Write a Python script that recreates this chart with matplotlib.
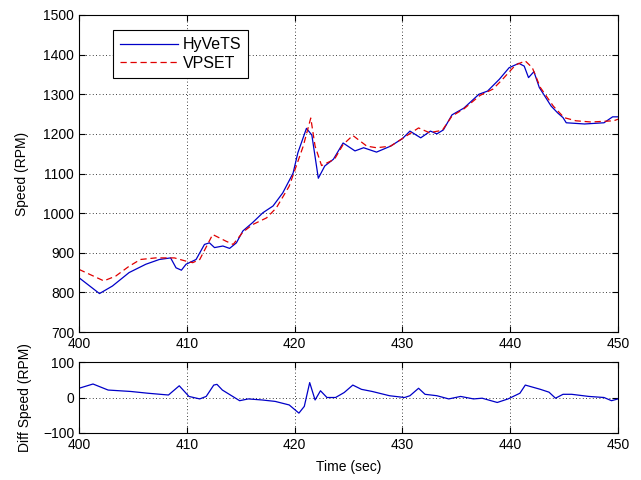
import matplotlib
matplotlib.use('Agg')
import matplotlib.pyplot as plt
import numpy as np

plt.rcParams['font.family'] = ['Liberation Sans', 'DejaVu Sans']
plt.rcParams['font.size'] = 10

# HyVeTS speed (time in sec, RPM)
t_hyvets = [400.0, 401.9, 403.1, 404.65, 406.2, 407.45, 408.5, 409.0, 409.5, 409.93,
            410.86, 411.64, 412.1, 412.57, 413.35, 413.97, 414.6, 415.2, 416.1, 417.06,
            418.0, 418.9, 419.86, 420.3, 421.1, 421.6, 422.2, 422.8, 423.6, 424.5,
            425.6, 426.4, 427.6, 428.9, 430.0, 430.7, 431.7, 432.6, 433.2, 433.8,
            434.6, 435.7, 437.1, 437.9, 439.0, 439.9, 440.8, 441.3, 441.7, 442.2,
            442.7, 443.8, 444.4, 444.9, 445.2, 446.9, 448.7, 449.5, 450.0]
v_hyvets = [837, 797, 816, 850, 871, 883, 887, 862, 856, 871,
            883, 921, 925, 913, 917, 911, 925, 955, 976, 1001,
            1018, 1051, 1101, 1152, 1214, 1197, 1088, 1119, 1136, 1177,
            1157, 1165, 1154, 1169, 1188, 1207, 1190, 1207, 1200, 1210,
            1248, 1265, 1300, 1308, 1338, 1367, 1378, 1371, 1342, 1357,
            1317, 1270, 1253, 1241, 1228, 1225, 1228, 1243, 1243]

# VPSET speed
t_vpset = [400.0, 402.3, 403.4, 404.65, 405.7, 407.1, 408.85, 409.9, 410.55, 411.2,
           412.4, 413.65, 414.3, 415.2, 416.1, 417.4, 418.3, 419.5, 420.8, 421.5,
           421.9, 422.5, 423.7, 424.5, 425.4, 426.7, 427.6, 428.9, 430.1, 431.5,
           432.5, 433.7, 434.6, 435.7, 437.2, 438.4, 439.3, 440.5, 441.4, 442.05,
           442.8, 444.0, 445.0, 446.1, 447.5, 449.6, 450.0]
v_vpset = [858, 829, 841, 866, 883, 887, 887, 879, 875, 883,
           946, 929, 921, 952, 971, 988, 1013, 1068, 1169, 1240,
           1169, 1120, 1136, 1173, 1196, 1169, 1165, 1169, 1190, 1215,
           1203, 1209, 1245, 1263, 1297, 1313, 1338, 1374, 1384, 1367,
           1317, 1270, 1241, 1233, 1230, 1233, 1237]

# speed difference
t_diff = [400.0, 401.3, 402.7, 404.8, 406.4, 408.3, 409.3, 410.2, 411.2, 411.8,
          412.5, 412.8, 413.3, 414.9, 415.7, 417.0, 418.2, 419.5, 420.4, 420.9,
          421.4, 421.9, 422.4, 423.0, 423.8, 424.6, 425.4, 426.2, 427.2, 428.8,
          430.2, 430.7, 431.5, 432.1, 433.2, 434.3, 435.4, 436.6, 437.4, 438.8,
          439.8, 440.9, 441.4, 442.8, 443.6, 444.2, 444.9, 445.7, 447.3, 448.7,
          449.4, 450.0]
v_diff = [26, 38, 21, 17, 12, 7, 33, 3, -4, 3,
          35, 37, 21, -9, -4, -7, -11, -21, -44, -25,
          42, -7, 19, 0, 0, 14, 35, 23, 17, 5,
          0, 5, 26, 9, 5, -4, 3, -4, -2, -14,
          -4, 12, 35, 23, 15, -2, 9, 9, 3, 0,
          -9, -4]

fig = plt.figure(figsize=(6.41, 4.8), dpi=100)
ax1 = fig.add_axes([79/641, 1-332/480, 539/641, 317/480])
ax2 = fig.add_axes([79/641, 1-433/480, 539/641, 71/480])

ax1.plot(t_hyvets, v_hyvets, color='#0000c8', lw=0.9, label='HyVeTS')
ax1.plot(t_vpset, v_vpset, color='#e00000', lw=0.9, ls=(0, (5, 3)), label='VPSET')
ax1.set_xlim(400, 450)
ax1.set_ylim(700, 1500)
ax1.set_yticks(np.arange(700, 1501, 100))
ax1.set_ylabel('Speed (RPM)', labelpad=10)
leg = ax1.legend(loc='upper left', bbox_to_anchor=(0.063, 0.952), fancybox=False,
                 edgecolor='black', framealpha=1, handlelength=3.6, borderpad=0.45,
                 labelspacing=0.2, handletextpad=0.3, fontsize=11.5,
                 borderaxespad=0)
leg.get_frame().set_linewidth(0.8)

ax2.plot(t_diff, v_diff, color='#0000c8', lw=0.9)
ax2.set_xlim(400, 450)
ax2.set_ylim(-100, 100)
ax2.set_yticks([-100, 0, 100])
ax2.set_ylabel('Diff Speed (RPM)', labelpad=8)
ax2.set_xlabel('Time (sec)', labelpad=6)

for ax in (ax1, ax2):
    ax.grid(True, color='black', ls=(0, (1, 3)), lw=0.6)
    ax.tick_params(direction='in', top=True, right=True, length=4, labelsize=10)
    for s in ax.spines.values():
        s.set_linewidth(0.8)

fig.savefig('out.png', dpi=100)
